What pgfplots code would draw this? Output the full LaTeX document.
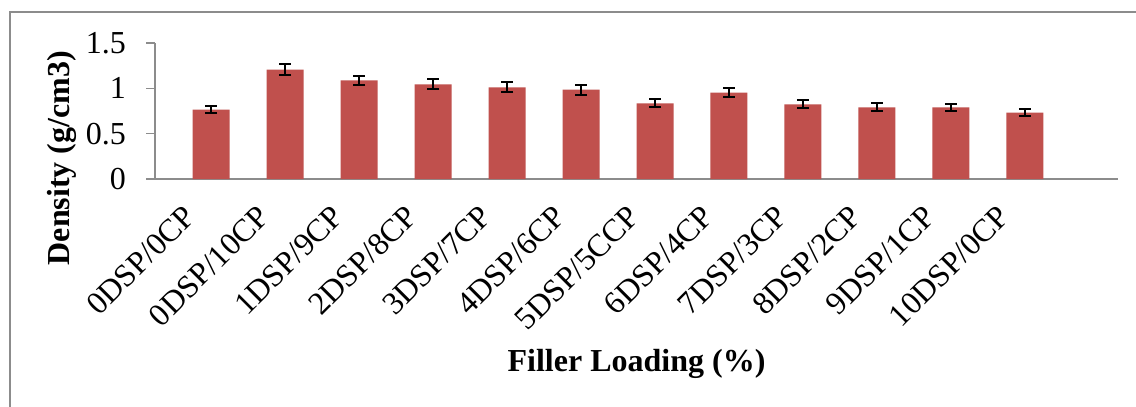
\documentclass[border=0pt]{standalone}
\usepackage{pgfplots}
\pgfplotsset{compat=1.18}
\usepackage{fontspec}
\setmainfont{Liberation Serif}
\definecolor{barred}{HTML}{C0504D}
\definecolor{axgray}{HTML}{8C8C8C}
\begin{document}
\begin{tikzpicture}[x=1pt,y=1pt]
\useasboundingbox (0,0) rectangle (568,203.5);
\fill[white] (0,0) rectangle (568,203.5);
\draw[axgray, line width=1pt] (4.75,0) -- (4.75,197.5) -- (568,197.5);
\begin{axis}[
  at={(77.5pt,114pt)}, anchor=south west,
  scale only axis, width=481.5pt, height=68pt,
  xmin=-0.757, xmax=12.257, ymin=0, ymax=1.5,
  axis x line*=bottom, axis y line*=left,
  axis line style={-},
  x axis line style={axgray, line width=1.2pt},
  y axis line style={axgray, line width=0.7pt},
  xtick={0,...,11},
  xticklabels={0DSP/0CP,0DSP/10CP,1DSP/9CP,2DSP/8CP,3DSP/7CP,4DSP/6CP,5DSP/5CCP,6DSP/4CP,7DSP/3CP,8DSP/2CP,9DSP/1CP,10DSP/0CP},
  x tick style={draw=none},
  ytick={0,0.5,1,1.5},
  yticklabels={0,0.5,1,1.5},
  y tick style={axgray, line width=0.7pt},
  tick align=outside, major tick length=4.5pt,
  tick label style={font=\fontsize{16}{18}\selectfont},
  yticklabel style={xshift=-6.5pt},
  xticklabel style={xshift=-10.5pt, yshift=-11.5pt, rotate=45, anchor=east, inner sep=0pt},
  xlabel={Filler Loading (\%)},
  ylabel={Density (g/cm3)},
  every axis x label/.style={at={(axis description cs:0.5,-1.36)}, anchor=center, font=\bfseries\fontsize{16}{18}\selectfont},
  every axis y label/.style={at={(axis description cs:-0.0966,0.154)}, anchor=center, rotate=90, font=\bfseries\fontsize{16}{18}\selectfont},
  clip=false,
]
\addplot[ybar, bar width=18.5pt, fill=barred, draw=none,
  error bars/.cd, y dir=both, y explicit,
  error bar style={black, line width=1pt},
  error mark options={black, rotate=90, mark size=3pt, line width=1pt}]
  coordinates {
  (0,0.764) +- (0,0.036)
  (1,1.205) +- (0,0.063)
  (2,1.088) +- (0,0.05)
  (3,1.044) +- (0,0.055)
  (4,1.011) +- (0,0.055)
  (5,0.985) +- (0,0.055)
  (6,0.835) +- (0,0.045)
  (7,0.952) +- (0,0.05)
  (8,0.824) +- (0,0.045)
  (9,0.791) +- (0,0.045)
  (10,0.791) +- (0,0.04)
  (11,0.731) +- (0,0.04)
  };
\end{axis}
\end{tikzpicture}
\end{document}
